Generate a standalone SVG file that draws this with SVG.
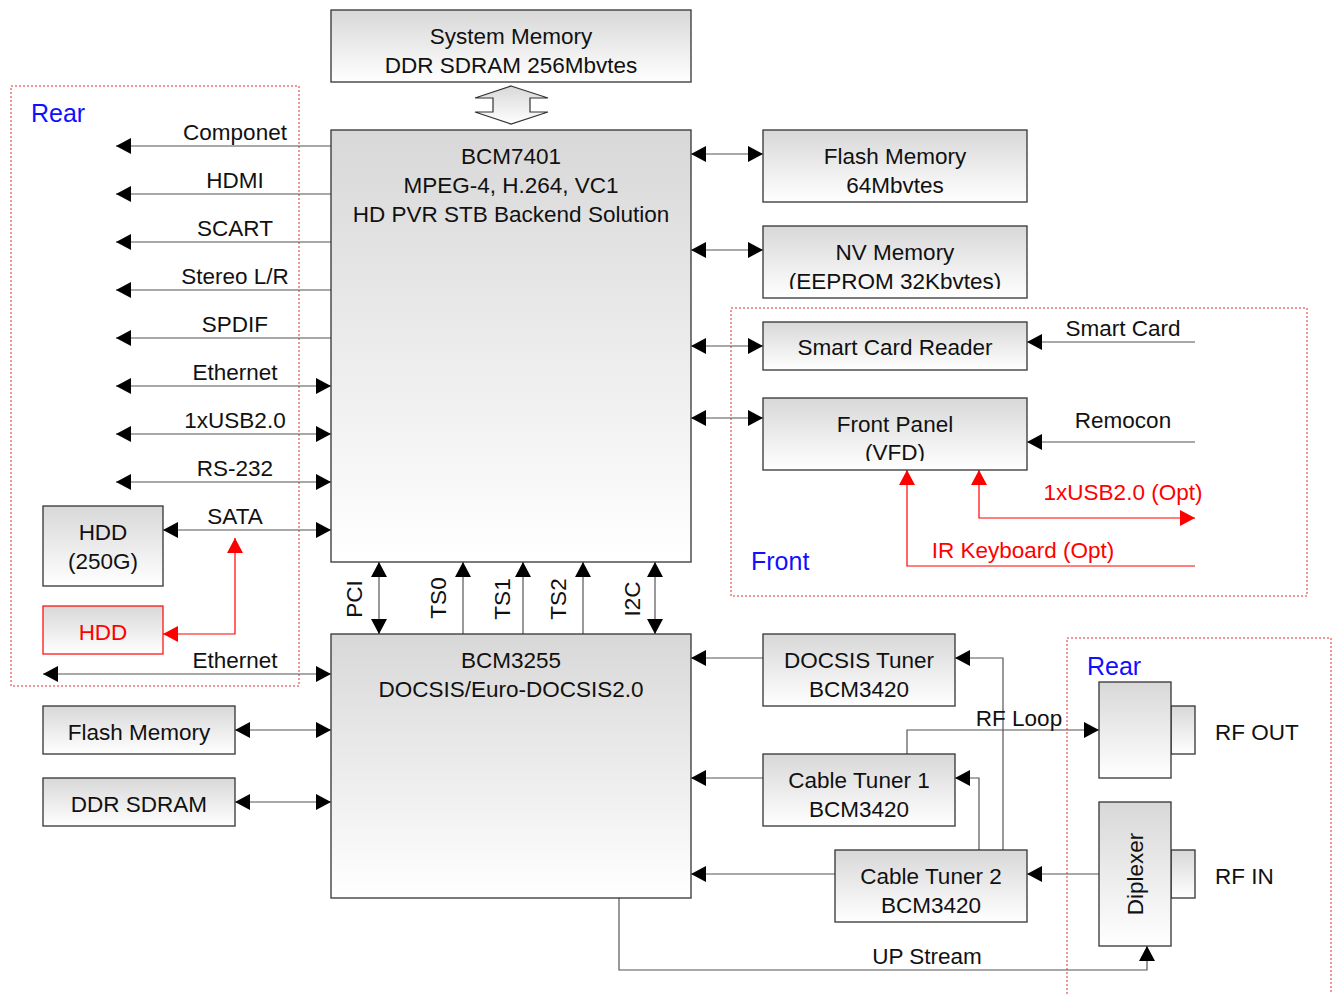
<svg xmlns="http://www.w3.org/2000/svg" width="1339" height="994" viewBox="0 0 1339 994">
<style>
text{font-family:"Liberation Sans",Arial,sans-serif;font-size:22.5px;fill:#111;text-anchor:middle}
.box{fill:url(#g);stroke:#333;stroke-width:1.3}
.rbox{fill:url(#g);stroke:#f00;stroke-width:1.2}
.ln{fill:none;stroke:#555;stroke-width:1.2}
.rl{fill:none;stroke:#f00;stroke-width:1.2}
.dash{fill:none;stroke:#e03030;stroke-width:1;stroke-dasharray:2,2}
.blue{fill:#1010ff;font-size:25px;text-anchor:start}
.red{fill:#f00}
.st{text-anchor:start}
</style>
<defs>
<linearGradient id="g" x1="0" y1="0" x2="0" y2="1">
<stop offset="0" stop-color="#d8d8d8"/>
<stop offset="1" stop-color="#ffffff"/>
</linearGradient>
<marker id="a" viewBox="0 0 15 16" refX="15" refY="8" markerWidth="15" markerHeight="16" markerUnits="userSpaceOnUse" orient="auto-start-reverse"><path d="M0,0 L15,8 L0,16 z" fill="#000"/></marker>
<marker id="ar" viewBox="0 0 15 16" refX="15" refY="8" markerWidth="15" markerHeight="16" markerUnits="userSpaceOnUse" orient="auto-start-reverse"><path d="M0,0 L15,8 L0,16 z" fill="#f00"/></marker>
<clipPath id="cNV"><rect x="763" y="226" width="264" height="63"/></clipPath>
<clipPath id="cFP"><rect x="763" y="398" width="264" height="63"/></clipPath>
</defs>

<g id="zones">
<rect class="dash" x="11" y="86" width="288" height="600"/>
<text class="blue" x="31" y="122">Rear</text>
<rect class="dash" x="731" y="308" width="576" height="288"/>
<text class="blue" x="751" y="570">Front</text>
<rect class="dash" x="1067" y="638" width="264" height="370"/>
<text class="blue" x="1087" y="675">Rear</text>
</g>

<g id="connectors">
<polygon points="511,86 548,98 530,98 530,112 548,112 511,124 475,112 493,112 493,98 475,98" fill="url(#g)" stroke="#333" stroke-width="1.2"/>
<!-- left outputs -->
<path class="ln" d="M331,146 H116" marker-end="url(#a)"/>
<path class="ln" d="M331,194 H116" marker-end="url(#a)"/>
<path class="ln" d="M331,242 H116" marker-end="url(#a)"/>
<path class="ln" d="M331,290 H116" marker-end="url(#a)"/>
<path class="ln" d="M331,338 H116" marker-end="url(#a)"/>
<path class="ln" d="M116,386 H331" marker-start="url(#a)" marker-end="url(#a)"/>
<path class="ln" d="M116,434 H331" marker-start="url(#a)" marker-end="url(#a)"/>
<path class="ln" d="M116,482 H331" marker-start="url(#a)" marker-end="url(#a)"/>
<path class="ln" d="M163,530 H331" marker-start="url(#a)" marker-end="url(#a)"/>
<path class="rl" d="M235,538 V634 H163" marker-start="url(#ar)" marker-end="url(#ar)"/>
<path class="ln" d="M43,674 H331" marker-start="url(#a)" marker-end="url(#a)"/>
<text x="235" y="140">Componet</text>
<text x="235" y="188">HDMI</text>
<text x="235" y="236">SCART</text>
<text x="235" y="284">Stereo L/R</text>
<text x="235" y="332">SPDIF</text>
<text x="235" y="380">Ethernet</text>
<text x="235" y="428">1xUSB2.0</text>
<text x="235" y="476">RS-232</text>
<text x="235" y="524">SATA</text>
<text x="235" y="668">Ethernet</text>
<!-- left lower -->
<path class="ln" d="M235,730 H331" marker-start="url(#a)" marker-end="url(#a)"/>
<path class="ln" d="M235,802 H331" marker-start="url(#a)" marker-end="url(#a)"/>
<!-- right upper -->
<path class="ln" d="M691,154 H763" marker-start="url(#a)" marker-end="url(#a)"/>
<path class="ln" d="M691,250 H763" marker-start="url(#a)" marker-end="url(#a)"/>
<path class="ln" d="M691,346 H763" marker-start="url(#a)" marker-end="url(#a)"/>
<path class="ln" d="M691,418 H763" marker-start="url(#a)" marker-end="url(#a)"/>
<path class="ln" d="M1195,342 H1027" marker-end="url(#a)"/>
<path class="ln" d="M1195,442 H1027" marker-end="url(#a)"/>
<text x="1123" y="336">Smart Card</text>
<text x="1123" y="428">Remocon</text>
<path class="rl" d="M1195,566 H907 V470" marker-end="url(#ar)"/>
<path class="rl" d="M979,470 V518 H1195" marker-start="url(#ar)" marker-end="url(#ar)"/>
<text class="red" x="1123" y="500">1xUSB2.0 (Opt)</text>
<text class="red" x="1023" y="558">IR Keyboard (Opt)</text>
<!-- middle buses -->
<path class="ln" d="M379,562 V634" marker-start="url(#a)" marker-end="url(#a)"/>
<path class="ln" d="M463,634 V562" marker-end="url(#a)"/>
<path class="ln" d="M523,634 V562" marker-end="url(#a)"/>
<path class="ln" d="M583,634 V562" marker-end="url(#a)"/>
<path class="ln" d="M655,562 V634" marker-start="url(#a)" marker-end="url(#a)"/>
<text transform="translate(362,599) rotate(-90)">PCI</text>
<text transform="translate(446,598) rotate(-90)">TS0</text>
<text transform="translate(510,599) rotate(-90)">TS1</text>
<text transform="translate(566,599) rotate(-90)">TS2</text>
<text transform="translate(640,599) rotate(-90)">I2C</text>
<!-- tuners -->
<path class="ln" d="M763,658 H691" marker-end="url(#a)"/>
<path class="ln" d="M763,778 H691" marker-end="url(#a)"/>
<path class="ln" d="M835,874 H691" marker-end="url(#a)"/>
<path class="ln" d="M1003,850 V658 H955" marker-end="url(#a)"/>
<path class="ln" d="M979,850 V778 H955" marker-end="url(#a)"/>
<path class="ln" d="M907,754 V730 H1099" marker-end="url(#a)"/>
<path class="ln" d="M1099,874 H1027" marker-end="url(#a)"/>
<path class="ln" d="M619,898 V970 H1147 V946" marker-end="url(#a)"/>
<text x="1019" y="726">RF Loop</text>
<text x="927" y="964">UP Stream</text>
</g>

<g id="sysmem">
<rect class="box" x="331" y="10" width="360" height="72"/>
<text x="511" y="44">System Memory</text>
<text x="511" y="73">DDR SDRAM 256Mbvtes</text>
</g>
<g id="bcm7401">
<rect class="box" x="331" y="130" width="360" height="432"/>
<text x="511" y="164">BCM7401</text>
<text x="511" y="193">MPEG-4, H.264, VC1</text>
<text x="511" y="222">HD PVR STB Backend Solution</text>
</g>
<g id="flash1">
<rect class="box" x="763" y="130" width="264" height="72"/>
<text x="895" y="164">Flash Memory</text>
<text x="895" y="193">64Mbvtes</text>
</g>
<g id="nvmem">
<rect class="box" x="763" y="226" width="264" height="72"/>
<text x="895" y="260">NV Memory</text>
<text x="895" y="289" clip-path="url(#cNV)">(EEPROM 32Kbvtes)</text>
</g>
<g id="scr">
<rect class="box" x="763" y="322" width="264" height="48"/>
<text x="895" y="355">Smart Card Reader</text>
</g>
<g id="fp">
<rect class="box" x="763" y="398" width="264" height="72"/>
<text x="895" y="432">Front Panel</text>
<text x="895" y="460" clip-path="url(#cFP)">(VFD)</text>
</g>
<g id="hdd250">
<rect class="box" x="43" y="506" width="120" height="80"/>
<text x="103" y="540">HDD</text>
<text x="103" y="569">(250G)</text>
</g>
<g id="hddopt">
<rect class="rbox" x="43" y="606" width="120" height="48"/>
<text class="red" x="103" y="640">HDD</text>
</g>
<g id="bcm3255">
<rect class="box" x="331" y="634" width="360" height="264"/>
<text x="511" y="668">BCM3255</text>
<text x="511" y="697">DOCSIS/Euro-DOCSIS2.0</text>
</g>
<g id="flash2">
<rect class="box" x="43" y="706" width="192" height="48"/>
<text x="139" y="740">Flash Memory</text>
</g>
<g id="ddr">
<rect class="box" x="43" y="778" width="192" height="48"/>
<text x="139" y="812">DDR SDRAM</text>
</g>
<g id="docsis">
<rect class="box" x="763" y="634" width="192" height="72"/>
<text x="859" y="668">DOCSIS Tuner</text>
<text x="859" y="697">BCM3420</text>
</g>
<g id="ct1">
<rect class="box" x="763" y="754" width="192" height="72"/>
<text x="859" y="788">Cable Tuner 1</text>
<text x="859" y="817">BCM3420</text>
</g>
<g id="ct2">
<rect class="box" x="835" y="850" width="192" height="72"/>
<text x="931" y="884">Cable Tuner 2</text>
<text x="931" y="913">BCM3420</text>
</g>
<g id="rfout">
<rect class="box" x="1171" y="706" width="24" height="48"/>
<rect class="box" x="1099" y="682" width="72" height="96"/>
<text class="st" x="1215" y="740">RF OUT</text>
</g>
<g id="diplexer">
<rect class="box" x="1171" y="850" width="24" height="48"/>
<rect class="box" x="1099" y="802" width="72" height="144"/>
<text transform="translate(1143,874) rotate(-90)">Diplexer</text>
<text class="st" x="1215" y="884">RF IN</text>
</g>
</svg>
